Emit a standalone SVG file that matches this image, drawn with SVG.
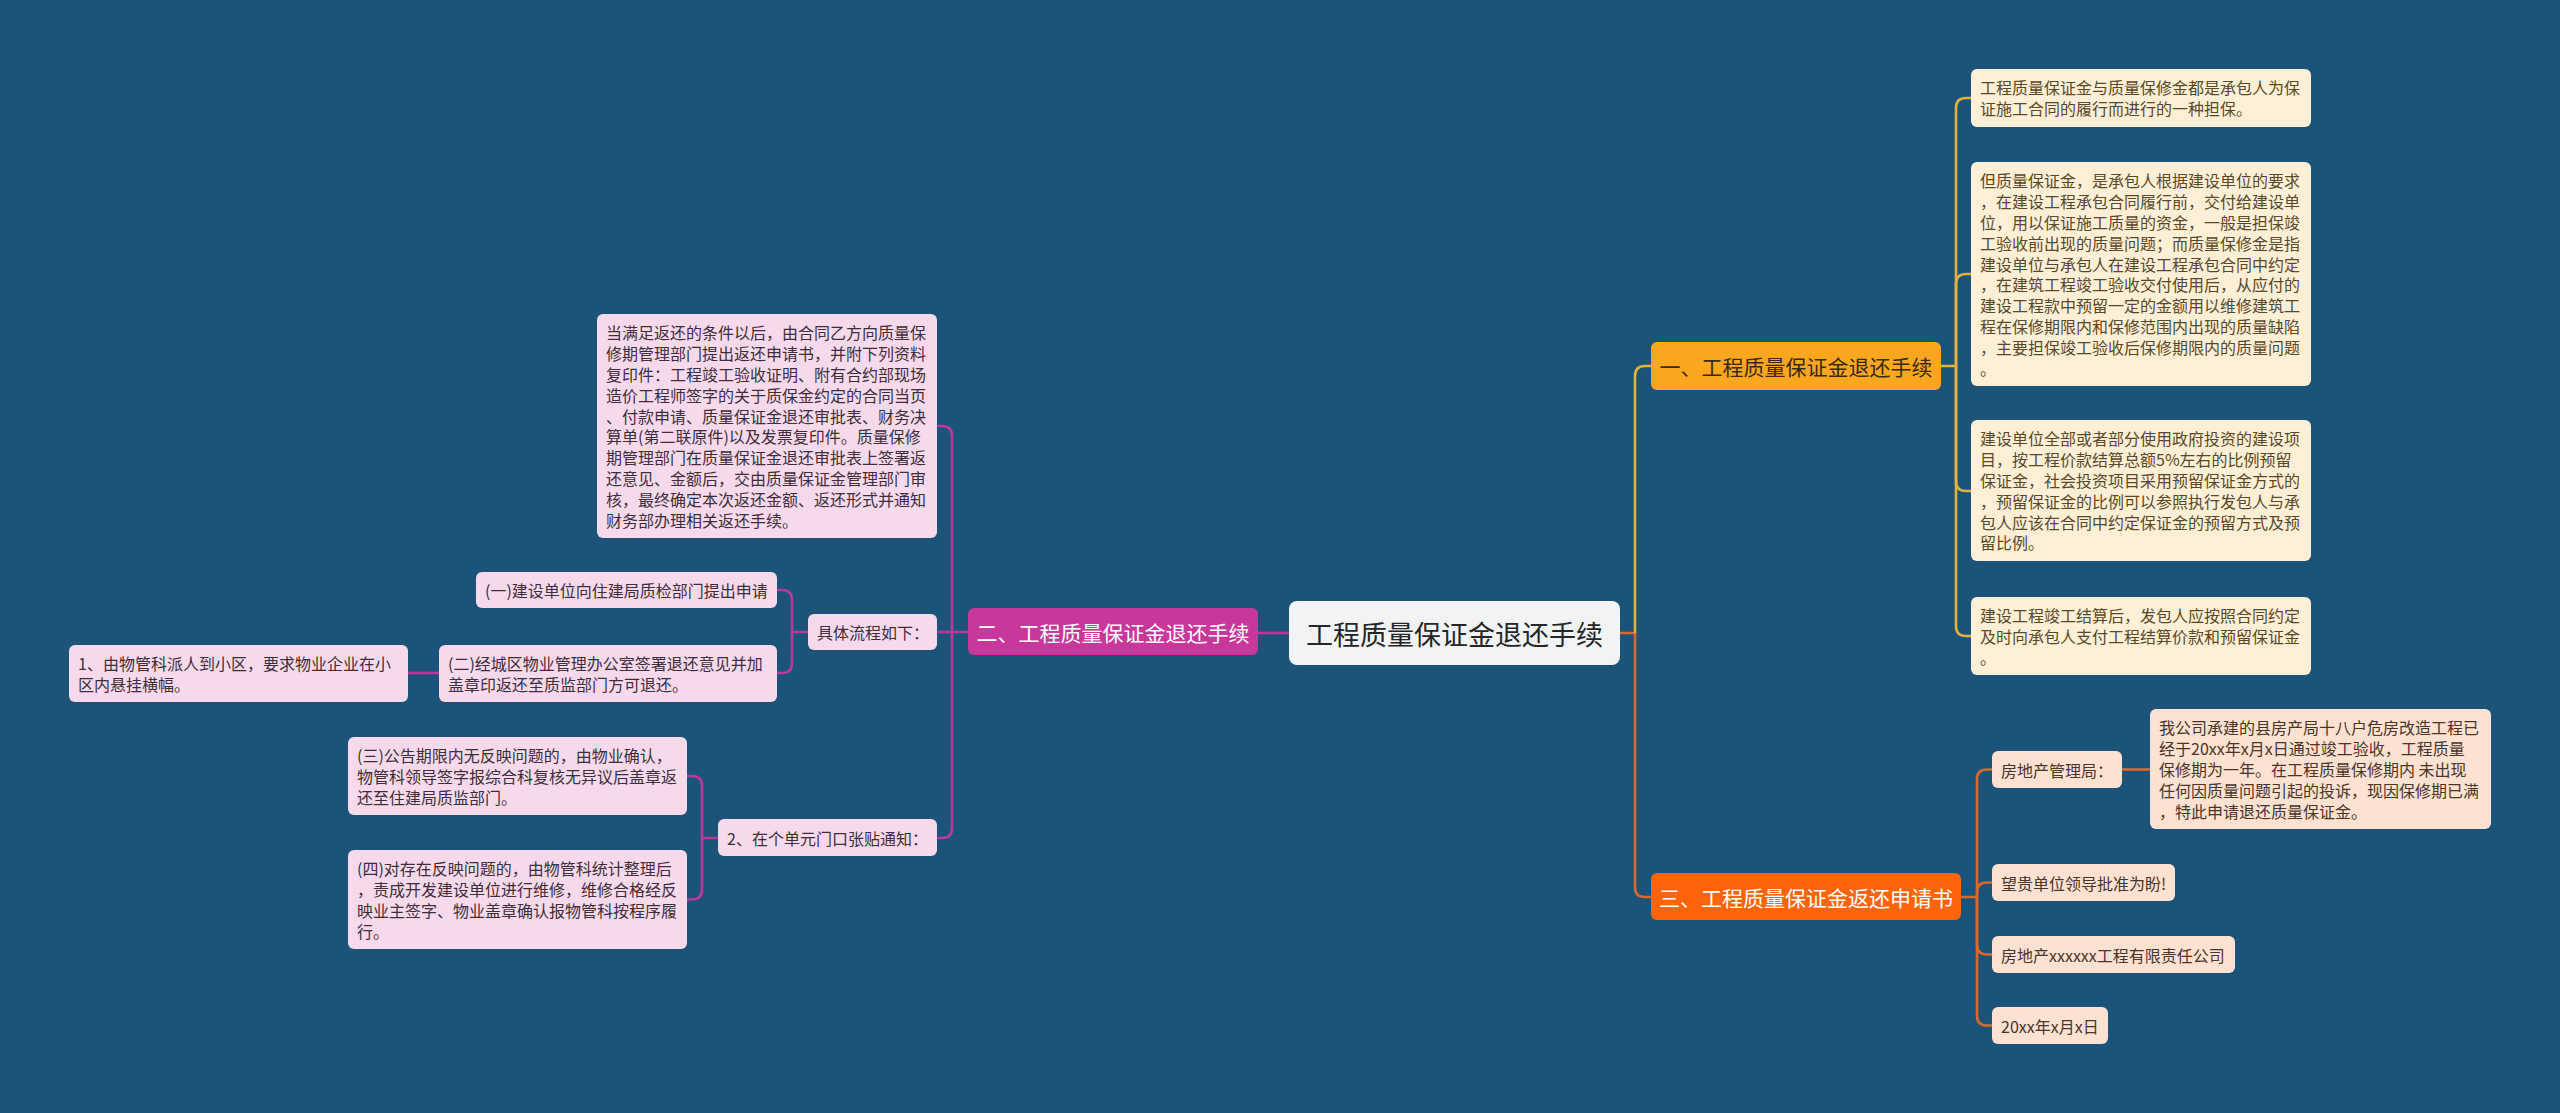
<svg xmlns="http://www.w3.org/2000/svg" width="2560" height="1113" viewBox="0 0 2560 1113">
<style>
text{font-family:"Noto Sans CJK SC","Noto Sans",sans-serif;dominant-baseline:central}
.leaf{font-size:16px}
.cream rect{fill:#FDF0D6}
.cream text{fill:#5A4828}
.pink rect{fill:#F6DAEC}
.pink text{fill:#3E2D3B}
.peach rect{fill:#FDE1D1}
.peach text{fill:#4A352A}
.main text{font-size:21px}
.conn path{fill:none;stroke-width:2.6}
.gold{stroke:#E3B13E}
.org{stroke:#D9692F}
.mag{stroke:#B8399A}
</style>
<rect width="2560" height="1113" fill="#1B5478"/>
<g class="conn">
<path class="org" d="M1620,633 H1635 V887 Q1635,897 1645,897 H1651"/>
<path class="gold" d="M1635,633 V376 Q1635,366 1645,366 H1651"/>
<path class="gold" d="M1941,366 H1956 V108 Q1956,98 1966,98 H1971"/>
<path class="gold" d="M1956,366 V284 Q1956,274 1966,274 H1971"/>
<path class="gold" d="M1956,366 V481 Q1956,491 1966,491 H1971"/>
<path class="gold" d="M1956,366 V626 Q1956,636 1966,636 H1971"/>
<path class="org" d="M1961,897 H1977 V779.5 Q1977,769.5 1987,769.5 H1992"/>
<path class="org" d="M1977,897 V892.5 Q1977,882.5 1987,882.5 H1992"/>
<path class="org" d="M1977,897 V944.5 Q1977,954.5 1987,954.5 H1992"/>
<path class="org" d="M1977,897 V1015.5 Q1977,1025.5 1987,1025.5 H1992"/>
<path class="org" d="M2121,769.5 H2150"/>
<path class="mag" d="M1289,633 H1257"/>
<path class="mag" d="M968,632 H952 V436 Q952,426 942,426 H937"/>
<path class="mag" d="M952,632 V828 Q952,838 942,838 H937"/>
<path class="mag" d="M952,632 H937"/>
<path class="mag" d="M808,632 H792 V600 Q792,590 782,590 H777"/>
<path class="mag" d="M792,632 V663 Q792,673 782,673 H777"/>
<path class="mag" d="M439,673 H408"/>
<path class="mag" d="M718,838 H702 V786 Q702,776 692,776 H687"/>
<path class="mag" d="M702,838 V889.5 Q702,899.5 692,899.5 H687"/>
</g>
<g id="center">
<rect x="1289" y="601" width="331" height="64" rx="8" fill="#F2F3F4"/>
<text x="1454.5" y="633" text-anchor="middle" font-size="27" fill="#262626">工程质量保证金退还手续</text>
</g>
<g id="b1" class="main">
<rect x="1651" y="342" width="290" height="48" rx="6" fill="#FAA61E"/>
<text x="1796" y="366" text-anchor="middle" fill="#3A2A12">一、工程质量保证金退还手续</text>
</g>
<g id="b2" class="main">
<rect x="968" y="608" width="290" height="47" rx="6" fill="#C8379A"/>
<text x="1113" y="632" text-anchor="middle" fill="#FFFFFF">二、工程质量保证金退还手续</text>
</g>
<g id="b3" class="main">
<rect x="1651" y="873" width="310" height="47" rx="6" fill="#FF640A"/>
<text x="1806" y="897" text-anchor="middle" fill="#FFFFFF">三、工程质量保证金返还申请书</text>
</g>
<g id="n1a" class="cream leaf">
<rect x="1971" y="69" width="340" height="58" rx="6"/>
<text x="1980" y="87.4"><tspan x="1980">工程质量保证金与质量保修金都是承包人为保</tspan><tspan x="1980" dy="20.8">证施工合同的履行而进行的一种担保。</tspan></text>
</g>
<g id="n1b" class="cream leaf">
<rect x="1971" y="162" width="340" height="224" rx="6"/>
<text x="1980" y="180.4"><tspan x="1980">但质量保证金，是承包人根据建设单位的要求</tspan><tspan x="1980" dy="20.8">，在建设工程承包合同履行前，交付给建设单</tspan><tspan x="1980" dy="20.8">位，用以保证施工质量的资金，一般是担保竣</tspan><tspan x="1980" dy="20.8">工验收前出现的质量问题；而质量保修金是指</tspan><tspan x="1980" dy="20.8">建设单位与承包人在建设工程承包合同中约定</tspan><tspan x="1980" dy="20.8">，在建筑工程竣工验收交付使用后，从应付的</tspan><tspan x="1980" dy="20.8">建设工程款中预留一定的金额用以维修建筑工</tspan><tspan x="1980" dy="20.8">程在保修期限内和保修范围内出现的质量缺陷</tspan><tspan x="1980" dy="20.8">，主要担保竣工验收后保修期限内的质量问题</tspan><tspan x="1980" dy="20.8">。</tspan></text>
</g>
<g id="n1c" class="cream leaf">
<rect x="1971" y="420" width="340" height="141" rx="6"/>
<text x="1980" y="438.4"><tspan x="1980">建设单位全部或者部分使用政府投资的建设项</tspan><tspan x="1980" dy="20.8">目，按工程价款结算总额5%左右的比例预留</tspan><tspan x="1980" dy="20.8">保证金，社会投资项目采用预留保证金方式的</tspan><tspan x="1980" dy="20.8">，预留保证金的比例可以参照执行发包人与承</tspan><tspan x="1980" dy="20.8">包人应该在合同中约定保证金的预留方式及预</tspan><tspan x="1980" dy="20.8">留比例。</tspan></text>
</g>
<g id="n1d" class="cream leaf">
<rect x="1971" y="597" width="340" height="78" rx="6"/>
<text x="1980" y="615.4"><tspan x="1980">建设工程竣工结算后，发包人应按照合同约定</tspan><tspan x="1980" dy="20.8">及时向承包人支付工程结算价款和预留保证金</tspan><tspan x="1980" dy="20.8">。</tspan></text>
</g>
<g id="n3a" class="peach leaf">
<rect x="1992" y="751" width="130" height="37" rx="6"/>
<text x="2001" y="769.5">房地产管理局：</text>
</g>
<g id="n3a1" class="peach leaf">
<rect x="2150" y="709" width="341" height="120" rx="6"/>
<text x="2159" y="727.4"><tspan x="2159">我公司承建的县房产局十八户危房改造工程已</tspan><tspan x="2159" dy="20.8">经于20xx年x月x日通过竣工验收，工程质量</tspan><tspan x="2159" dy="20.8">保修期为一年。在工程质量保修期内 未出现</tspan><tspan x="2159" dy="20.8">任何因质量问题引起的投诉，现因保修期已满</tspan><tspan x="2159" dy="20.8">，特此申请退还质量保证金。</tspan></text>
</g>
<g id="n3b" class="peach leaf">
<rect x="1992" y="864" width="183" height="37" rx="6"/>
<text x="2001" y="882.5">望贵单位领导批准为盼!</text>
</g>
<g id="n3c" class="peach leaf">
<rect x="1992" y="936" width="243" height="37" rx="6"/>
<text x="2001" y="954.5">房地产xxxxxx工程有限责任公司</text>
</g>
<g id="n3d" class="peach leaf">
<rect x="1992" y="1007" width="116" height="37" rx="6"/>
<text x="2001" y="1025.5">20xx年x月x日</text>
</g>
<g id="n2a" class="pink leaf">
<rect x="597" y="314" width="340" height="224" rx="6"/>
<text x="606" y="332.4"><tspan x="606">当满足返还的条件以后，由合同乙方向质量保</tspan><tspan x="606" dy="20.8">修期管理部门提出返还申请书，并附下列资料</tspan><tspan x="606" dy="20.8">复印件：工程竣工验收证明、附有合约部现场</tspan><tspan x="606" dy="20.8">造价工程师签字的关于质保金约定的合同当页</tspan><tspan x="606" dy="20.8">、付款申请、质量保证金退还审批表、财务决</tspan><tspan x="606" dy="20.8">算单(第二联原件)以及发票复印件。质量保修</tspan><tspan x="606" dy="20.8">期管理部门在质量保证金退还审批表上签署返</tspan><tspan x="606" dy="20.8">还意见、金额后，交由质量保证金管理部门审</tspan><tspan x="606" dy="20.8">核，最终确定本次返还金额、返还形式并通知</tspan><tspan x="606" dy="20.8">财务部办理相关返还手续。</tspan></text>
</g>
<g id="n2b" class="pink leaf">
<rect x="808" y="614" width="129" height="36" rx="6"/>
<text x="817" y="632">具体流程如下：</text>
</g>
<g id="n2b1" class="pink leaf">
<rect x="476" y="572" width="301" height="36" rx="6"/>
<text x="485" y="590">(一)建设单位向住建局质检部门提出申请</text>
</g>
<g id="n2b2" class="pink leaf">
<rect x="439" y="645" width="338" height="57" rx="6"/>
<text x="448" y="663.4"><tspan x="448">(二)经城区物业管理办公室签署退还意见并加</tspan><tspan x="448" dy="20.8">盖章印返还至质监部门方可退还。</tspan></text>
</g>
<g id="n2b2a" class="pink leaf">
<rect x="69" y="645" width="339" height="57" rx="6"/>
<text x="78" y="663.4"><tspan x="78">1、由物管科派人到小区，要求物业企业在小</tspan><tspan x="78" dy="20.8">区内悬挂横幅。</tspan></text>
</g>
<g id="n2c" class="pink leaf">
<rect x="718" y="819" width="219" height="37" rx="6"/>
<text x="727" y="837.5">2、在个单元门口张贴通知：</text>
</g>
<g id="n2c1" class="pink leaf">
<rect x="348" y="737" width="339" height="78" rx="6"/>
<text x="357" y="755.4"><tspan x="357">(三)公告期限内无反映问题的，由物业确认，</tspan><tspan x="357" dy="20.8">物管科领导签字报综合科复核无异议后盖章返</tspan><tspan x="357" dy="20.8">还至住建局质监部门。</tspan></text>
</g>
<g id="n2c2" class="pink leaf">
<rect x="348" y="850" width="339" height="99" rx="6"/>
<text x="357" y="868.4"><tspan x="357">(四)对存在反映问题的，由物管科统计整理后</tspan><tspan x="357" dy="20.8">，责成开发建设单位进行维修，维修合格经反</tspan><tspan x="357" dy="20.8">映业主签字、物业盖章确认报物管科按程序履</tspan><tspan x="357" dy="20.8">行。</tspan></text>
</g>
</svg>
